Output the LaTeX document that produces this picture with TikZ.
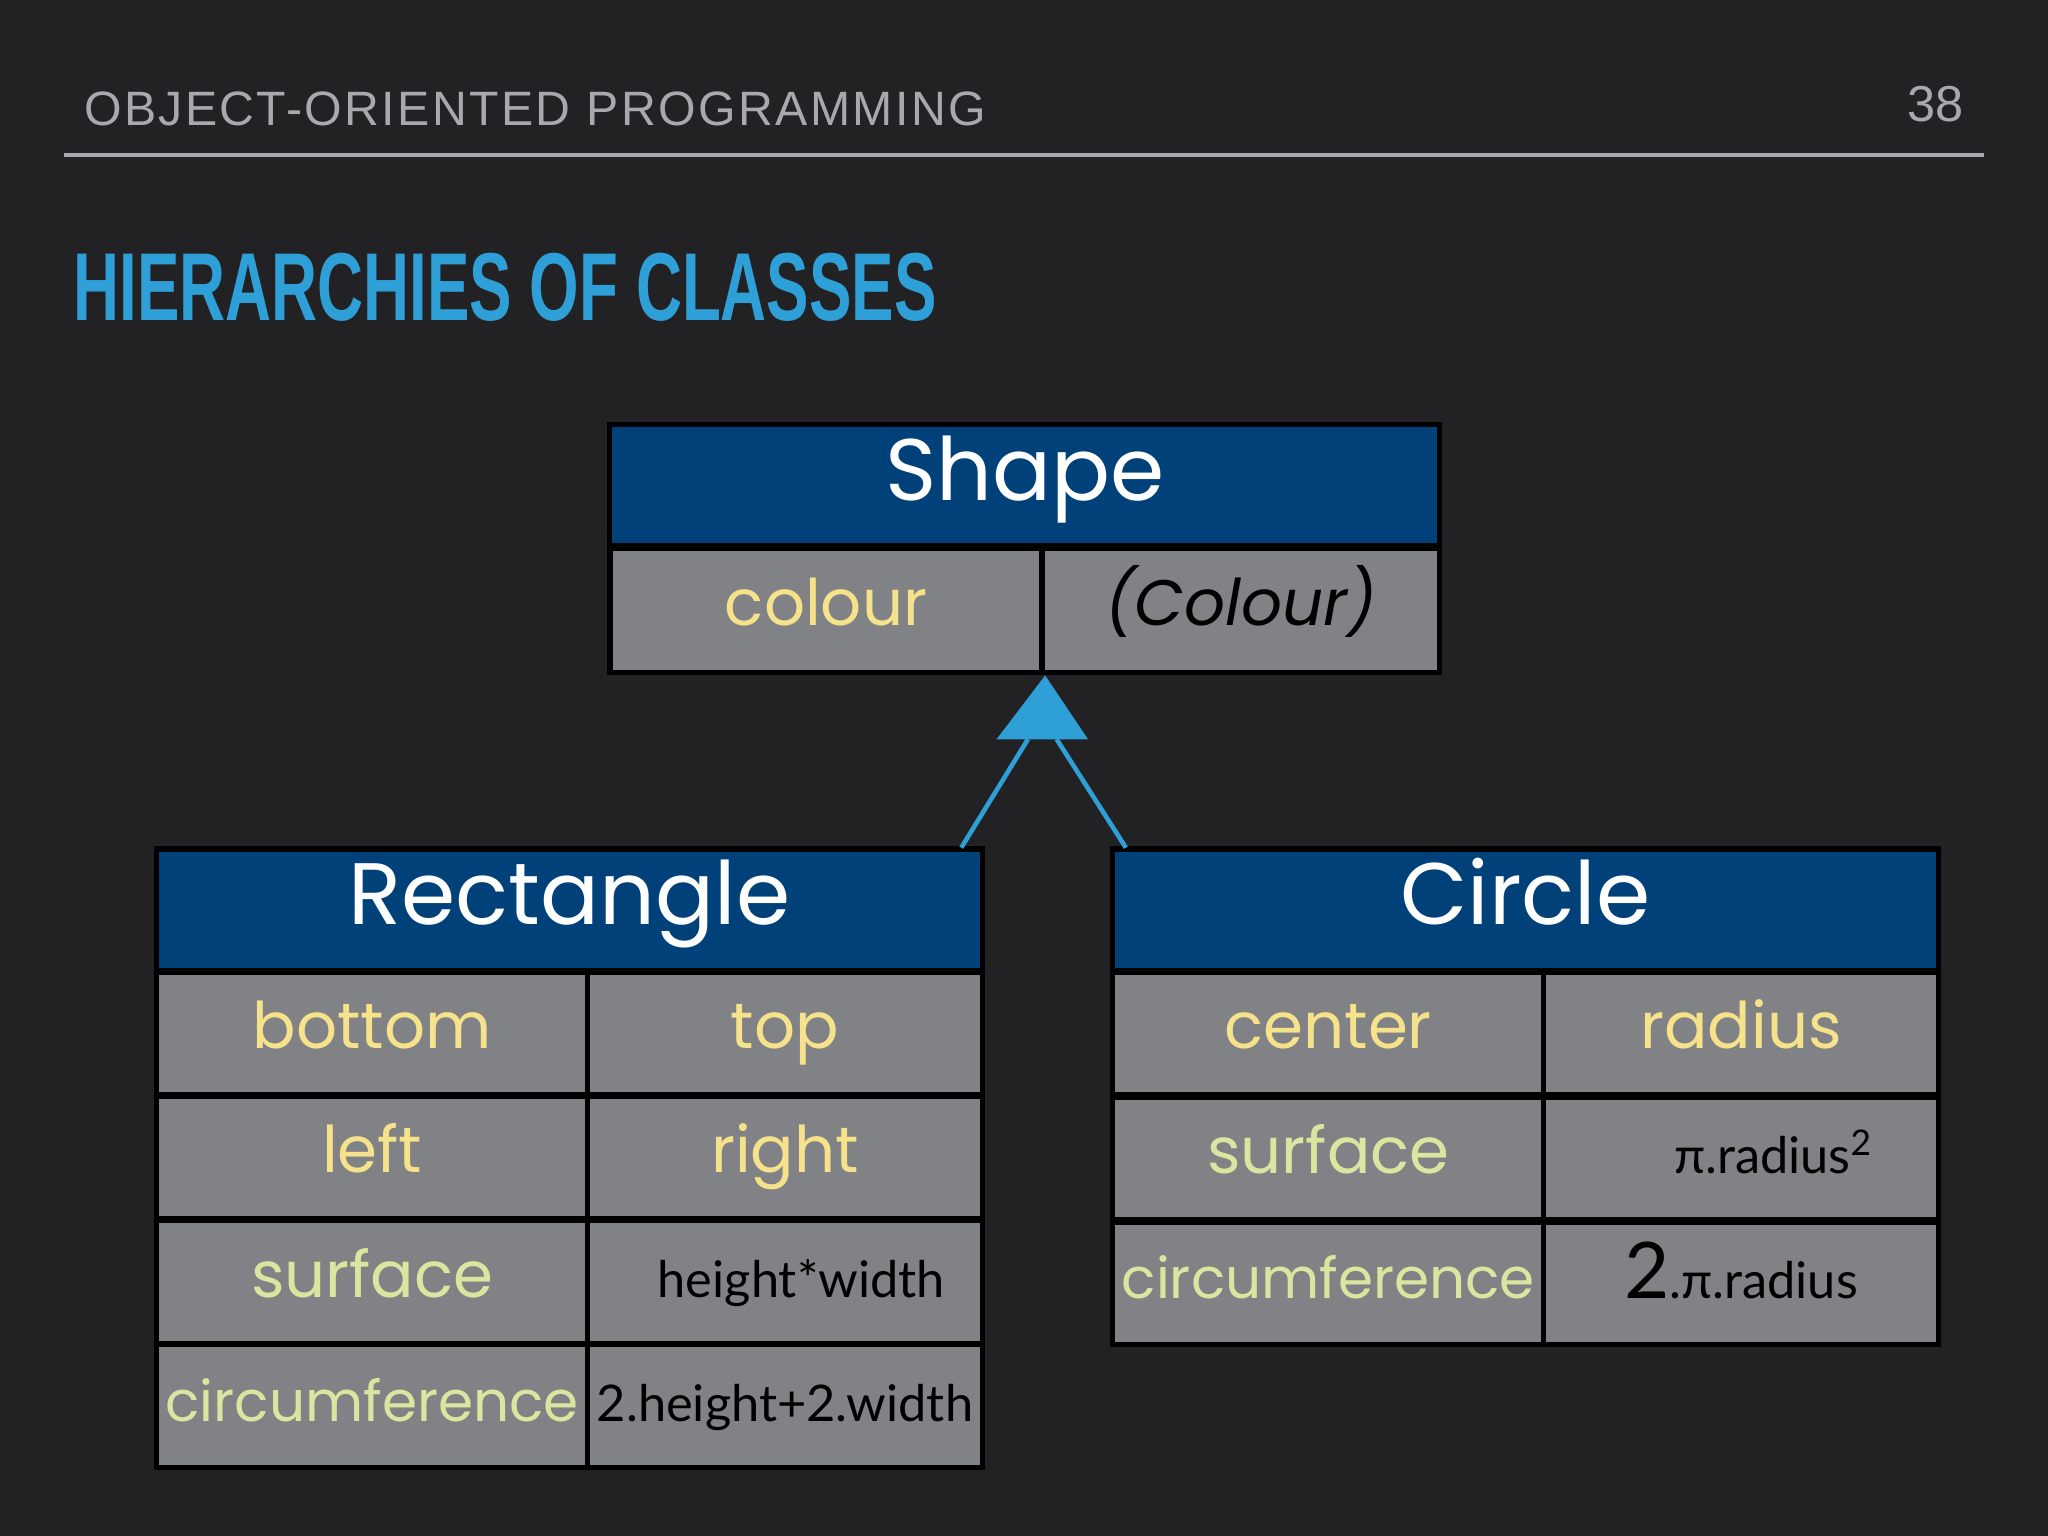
\documentclass[tikz,border=0pt]{standalone}
\usepackage{fontspec}
\setmainfont{Poppins}
\newfontfamily\headfont{Liberation Sans}
\newfontfamily\formfont{Lato}
\usetikzlibrary{positioning}
\definecolor{bg}{HTML}{222224}
\definecolor{hdrblue}{HTML}{00417A}
\definecolor{cellgrey}{HTML}{808285}
\definecolor{titleblue}{HTML}{2F9FD8}
\definecolor{fieldyellow}{HTML}{F5E28B}
\definecolor{fieldgreen}{HTML}{D9E6A0}
\definecolor{ruleg}{HTML}{A7A9AC}
\begin{document}
\begin{tikzpicture}[x=0.01cm,y=-0.01cm]
	\tikzset{classhead/.style={draw=black, line width=1.2pt, fill=hdrblue, text=white, minimum height=0.93cm, font=\fontsize{19}{22}\selectfont, text height=1.55ex, text depth=0.35ex, inner sep=0pt}}
	\tikzset{cell/.style={draw=black, line width=1.2pt, fill=cellgrey, minimum height=0.94cm, inner sep=0pt, text height=1.6ex, text depth=0.4ex, font=\fontsize{14}{17}\selectfont}}
	\tikzset{lcell/.style={cell, minimum width=3.3cm}}
	\tikzset{rcell/.style={cell, minimum width=3.02cm}}
	\tikzset{longword/.style={font=\fontsize{12.3}{15}\selectfont}}
	\tikzset{formula/.style={font=\formfont\fontsize{11}{13}\selectfont, text=black}}
	\tikzset{inherit/.style={titleblue, line width=1pt}}
	\fill[bg] (0,0) rectangle (1568,1176);
	\useasboundingbox (0,0) rectangle (1568,1176);

	% slide header
	\node[anchor=west, text=ruleg, font=\headfont\fontsize{10.5}{12}\selectfont] (course) at (52,83) {\addfontfeature{LetterSpace=5}OBJECT-ORIENTED PROGRAMMING};
	\node[anchor=east, text=ruleg, font=\headfont\fontsize{11}{13}\selectfont] (pagenum) at (1516,80) {38};
	\draw[ruleg, line width=0.9pt] (49,119) -- (1519,119);
	\node[anchor=west, text=titleblue, font=\headfont\bfseries\fontsize{21}{24}\selectfont, xscale=0.66, inner sep=0pt] (title) at (56,220) {HIERARCHIES OF CLASSES};

	% Shape
	\node[classhead, minimum width=6.35cm] (shape) at (784.5,371.5) {Shape};
	\node[cell, minimum width=3.31cm, minimum height=0.95cm, text=fieldyellow] (shape_f) at (632.5,467.5) {colour};
	\node[cell, minimum width=3.04cm, minimum height=0.95cm, text=black] (shape_t) at (950,467.5) {\itshape(Colour)};

	% Rectangle
	\node[classhead, minimum width=6.32cm] (rect) at (436,696.5) {Rectangle};
	\foreach \name/\y/\txt/\col in {r_1/791.5/bottom/fieldyellow, r_3/886/left/fieldyellow, r_5/981.5/surface/fieldgreen}
		\node[lcell, text=\col] (\name) at (285,\y) {\txt};
	\node[lcell, longword, text=fieldgreen] (r_7) at (285,1076.5) {circumference};
	\node[rcell, text=fieldyellow] (r_2) at (601,791.5) {top};
	\node[rcell, text=fieldyellow] (r_4) at (601,886) {right};
	\node[rcell, formula] (r_6) at (601,981.5) {\hspace*{0.25cm}height*width};
	\node[rcell, formula] (r_8) at (601,1076.5) {2.height+2.width};

	% Circle
	\node[classhead, minimum width=6.32cm] (circ) at (1168,696.5) {Circle};
	\foreach \name/\y/\txt/\col in {c_1/791.5/center/fieldyellow, c_3/887/surface/fieldgreen}
		\node[lcell, text=\col] (\name) at (1017,\y) {\txt};
	\node[lcell, longword, text=fieldgreen] (c_5) at (1017,982.5) {circumference};
	\node[rcell, text=fieldyellow] (c_2) at (1333,791.5) {radius};
	\node[rcell, formula] (c_4) at (1333,887) {\hspace*{0.5cm}π.radius\textsuperscript{2}};
	\node[rcell, formula] (c_6) at (1333,982.5) {{\fontsize{17}{20}\selectfont 2}.π.radius};

	% inheritance arrow
	\coordinate (tip) at (shape_f.south east);
	\coordinate (base_l) at (763,566);
	\coordinate (base_r) at (833,566);
	\coordinate (rect_end) at (736,649);
	\coordinate (circ_end) at (862,649);
	\draw[inherit] (rect_end) -- (787,566);
	\draw[inherit] (circ_end) -- (809,566);
	\fill[titleblue] (tip) -- (base_r) -- (base_l) -- cycle;
\end{tikzpicture}
\end{document}
